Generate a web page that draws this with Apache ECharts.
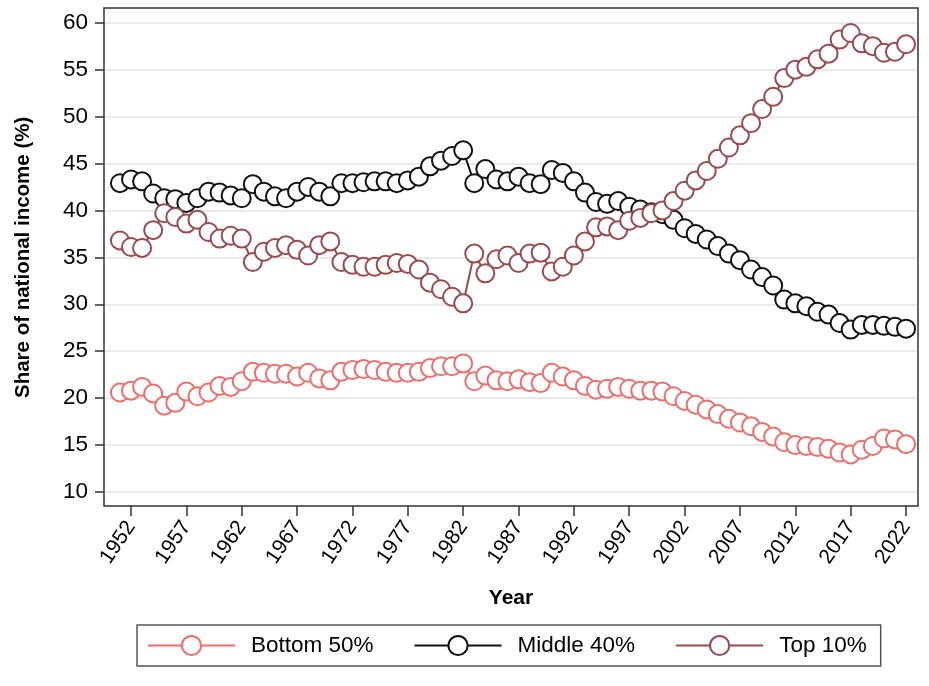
<!DOCTYPE html>
<html>
<head>
<meta charset="utf-8">
<script src="https://cdn.jsdelivr.net/npm/echarts@6/dist/echarts.min.js"></script>
<style>
html,body{margin:0;padding:0;background:#fff;}
#chart{width:929px;height:686px;}
</style>
</head>
<body>
<div id="chart"></div>
<script>
const years = [];
for (let y = 1951; y <= 2022; y++) years.push(y);

const tickYears = [1952,1957,1962,1967,1972,1977,1982,1987,1992,1997,2002,2007,2012,2017,2022];

const bottom50 = [
20.6,20.8,21.2,20.5,19.2,19.5,20.7,20.2,20.6,21.3,
21.2,21.8,22.8,22.7,22.6,22.6,22.3,22.7,22.1,21.9,
22.8,23.0,23.1,23.0,22.8,22.7,22.7,22.8,23.2,23.4,
23.4,23.7,21.8,22.4,21.9,21.8,22.0,21.7,21.6,22.7,
22.3,21.9,21.3,20.9,21.0,21.2,21.0,20.8,20.8,20.7,
20.2,19.7,19.3,18.8,18.3,17.8,17.4,17.0,16.4,15.9,
15.3,15.0,14.9,14.8,14.6,14.2,14.0,14.5,14.9,15.7,
15.6,15.1];

const middle40 = [
42.9,43.3,43.1,41.8,41.3,41.2,40.8,41.3,42.0,41.9,
41.6,41.3,42.8,42.0,41.5,41.3,42.0,42.5,42.0,41.5,
42.9,42.9,43.0,43.1,43.1,42.9,43.2,43.6,44.7,45.3,
45.8,46.4,42.9,44.4,43.3,43.1,43.6,42.9,42.8,44.3,
44.0,43.1,41.9,40.9,40.7,41.0,40.4,40.1,39.8,39.6,
39.0,38.1,37.5,36.9,36.2,35.4,34.7,33.7,32.9,32.0,
30.5,30.1,29.8,29.2,28.9,28.0,27.3,27.8,27.8,27.7,
27.6,27.4];

const top10 = [
36.8,36.1,36.0,37.9,39.7,39.3,38.6,39.0,37.7,37.0,
37.3,37.0,34.5,35.6,36.0,36.3,35.8,35.2,36.3,36.7,
34.5,34.2,34.0,34.0,34.2,34.4,34.3,33.7,32.3,31.6,
30.8,30.1,35.4,33.3,34.8,35.2,34.4,35.4,35.5,33.5,
34.0,35.2,36.7,38.2,38.3,37.9,38.9,39.2,39.7,40.0,
41.0,42.1,43.2,44.2,45.5,46.7,48.0,49.3,50.8,52.1,
54.1,55.0,55.3,56.1,56.7,58.2,58.9,57.8,57.5,56.8,
56.9,57.7];

const seriesNames = ['Bottom 50%', 'Middle 40%', 'Top 10%'];
const seriesColors = ['#ef6d6a', '#111111', '#9a4a4d'];
const seriesValues = [bottom50, middle40, top10];

const FONT = "'Liberation Sans', Arial, Helvetica, sans-serif";

const chart = echarts.init(document.getElementById('chart'), null, {renderer: 'canvas'});

const series = seriesNames.map((name, i) => ({
  name: name,
  type: 'line',
  data: years.map((y, k) => [y, seriesValues[i][k]]),
  symbol: 'emptyCircle',
  symbolSize: 18,
  clip: false,
  color: seriesColors[i],
  lineStyle: {color: seriesColors[i], width: 2},
  itemStyle: {color: seriesColors[i], borderColor: seriesColors[i], borderWidth: 1.8},
  emphasis: {disabled: true},
  animation: false
}));

chart.setOption({
  animation: false,
  backgroundColor: '#fff',
  grid: {left: 104, right: 11, top: 22.7, bottom: 194, containLabel: false},
  graphic: [{
    type: 'rect',
    shape: {x: 104, y: 8, width: 814, height: 498},
    style: {fill: 'none', stroke: '#333', lineWidth: 1.5},
    silent: true,
    z: 1
  }],
  xAxis: {
    type: 'value',
    min: 1949.56,
    max: 2023.08,
    offset: 14,
    name: 'Year',
    nameLocation: 'middle',
    nameGap: 82,
    nameTextStyle: {fontFamily: FONT, fontSize: 21, fontWeight: 'bold', color: '#000'},
    axisLine: {show: false},
    axisTick: {show: true, length: 10, customValues: tickYears, lineStyle: {color: '#333', width: 1.5}},
    axisLabel: {customValues: tickYears, rotate: 56, margin: 17, fontFamily: FONT, fontSize: 21, color: '#000', formatter: v => String(v)},
    splitLine: {show: false}
  },
  yAxis: {
    type: 'value',
    min: 10,
    max: 60,
    interval: 5,
    name: 'Share of national income (%)',
    nameLocation: 'middle',
    nameGap: 70,
    nameRotate: 90,
    nameTextStyle: {fontFamily: FONT, fontSize: 20.5, fontWeight: 'bold', color: '#000'},
    axisLine: {show: false},
    axisTick: {show: true, length: 9, lineStyle: {color: '#333', width: 1.5}},
    axisLabel: {margin: 16, fontFamily: FONT, fontSize: 22.5, color: '#000'},
    splitLine: {show: true, lineStyle: {color: '#e2e2e2', width: 1.5}}
  },
  legend: {
    data: seriesNames,
    left: 137,
    top: 625,
    orient: 'horizontal',
    itemWidth: 87,
    itemHeight: 24,
    itemGap: 40,
    padding: [9, 14, 9, 10],
    borderColor: '#555',
    borderWidth: 1.5,
    textStyle: {fontFamily: FONT, fontSize: 22.5, color: '#000', padding: [0, 0, 0, 11]},
    selectedMode: false
  },
  series: series
});
</script>
</body>
</html>
